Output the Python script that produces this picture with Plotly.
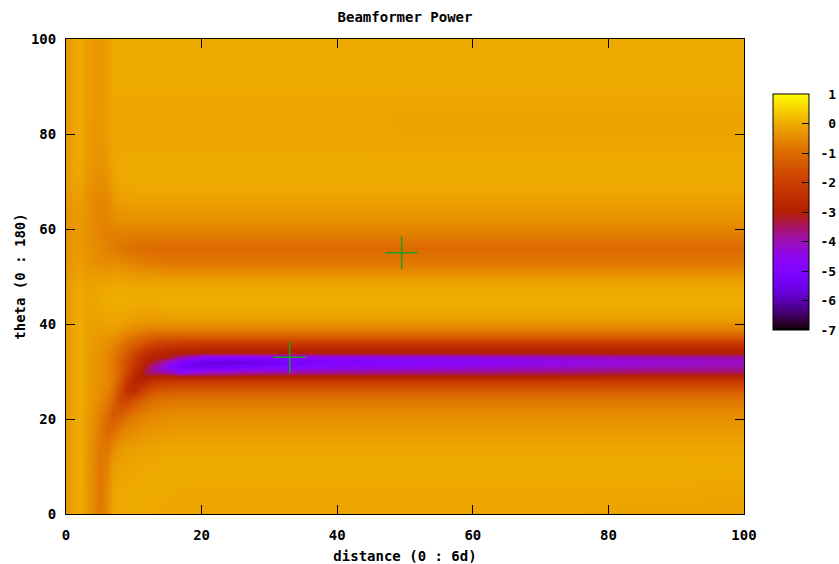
import math
import numpy as np
import plotly.graph_objects as go

# Sample grid: distance columns (x) and steering angle rows (theta)
distance = [0, 1, 2, 3, 4, 5, 6, 7, 8, 9, 10, 11, 12, 13, 15, 17, 20, 25, 30, 40, 55, 70, 85, 100]
theta = [0, 5, 10, 14, 18, 21, 24, 26, 28, 29, 30, 31, 32, 33, 34, 35, 36, 37.5, 39, 41,
         44, 47, 50, 53, 56, 59, 62, 66, 70, 75, 80, 85, 90, 100]

# Beamformer power, one list per distance column, ordered along theta
power_columns = [
    # d = 0
    [-0.35, -0.35, -0.35, -0.35, -0.35, -0.35, -0.35, -0.35, -0.35, -0.35, -0.35, -0.35, -0.35, -0.35, -0.35,
     -0.35, -0.35, -0.35, -0.35, -0.35, -0.35, -0.35, -0.4, -0.45, -0.45, -0.45, -0.45, -0.4, -0.35, -0.35,
     -0.35, -0.35, -0.35, -0.35],
    # d = 1
    [-0.08, -0.08, -0.08, -0.08, -0.08, -0.08, -0.08, -0.08, -0.08, -0.08, -0.08, -0.08, -0.08, -0.08, -0.08,
     -0.08, -0.08, -0.08, -0.08, -0.08, -0.08, -0.08, -0.15, -0.25, -0.28, -0.28, -0.28, -0.22, -0.12, -0.08,
     -0.08, -0.08, -0.08, -0.08],
    # d = 2
    [0.0, 0.0, 0.0, 0.0, 0.0, 0.0, 0.0, 0.0, 0.0, 0.0, 0.0, 0.0, 0.0, 0.0, 0.0, 0.0, 0.0, 0.0, 0.0, 0.0, 0.0,
     0.0, -0.1, -0.2, -0.25, -0.25, -0.25, -0.2, -0.1, -0.03, -0.03, -0.03, -0.03, -0.03],
    # d = 3
    [-0.22, -0.22, -0.22, -0.22, -0.2, -0.18, -0.15, -0.15, -0.15, -0.15, -0.15, -0.15, -0.15, -0.15, -0.15,
     -0.15, -0.15, -0.15, -0.15, -0.15, -0.1, -0.1, -0.2, -0.3, -0.35, -0.35, -0.35, -0.35, -0.28, -0.2,
     -0.18, -0.18, -0.18, -0.18],
    # d = 4
    [-0.48, -0.48, -0.5, -0.48, -0.45, -0.4, -0.32, -0.28, -0.28, -0.28, -0.28, -0.28, -0.28, -0.28, -0.28,
     -0.26, -0.22, -0.2, -0.18, -0.15, -0.1, -0.1, -0.2, -0.38, -0.42, -0.46, -0.48, -0.48, -0.38, -0.3,
     -0.28, -0.26, -0.26, -0.26],
    # d = 5
    [-0.8, -0.8, -0.82, -0.8, -0.75, -0.65, -0.5, -0.45, -0.4, -0.4, -0.4, -0.4, -0.4, -0.4, -0.38, -0.35,
     -0.3, -0.25, -0.2, -0.12, -0.05, -0.05, -0.2, -0.42, -0.52, -0.56, -0.56, -0.55, -0.45, -0.35, -0.3,
     -0.28, -0.28, -0.28],
    # d = 6
    [-0.45, -0.5, -0.62, -0.82, -1.1, -1.0, -0.75, -0.6, -0.5, -0.5, -0.5, -0.5, -0.5, -0.5, -0.48, -0.45,
     -0.4, -0.3, -0.18, -0.08, 0.0, 0.0, -0.2, -0.48, -0.62, -0.65, -0.6, -0.5, -0.35, -0.25, -0.2, -0.18,
     -0.16, -0.16],
    # d = 7
    [-0.06, -0.1, -0.22, -0.45, -1.0, -1.4, -1.15, -0.95, -0.8, -0.75, -0.75, -0.75, -0.75, -0.72, -0.7,
     -0.62, -0.52, -0.38, -0.2, -0.06, 0.0, 0.0, -0.15, -0.45, -0.7, -0.66, -0.5, -0.3, -0.15, -0.06, -0.08,
     -0.06, -0.03, -0.03],
    # d = 8
    [-0.03, -0.05, -0.12, -0.28, -0.72, -1.3, -1.8, -1.65, -1.4, -1.3, -1.2, -1.2, -1.2, -1.1, -1.0, -0.9,
     -0.75, -0.5, -0.28, -0.08, 0.0, 0.0, -0.15, -0.5, -0.8, -0.66, -0.42, -0.2, -0.05, -0.04, -0.08, -0.08,
     -0.03, -0.03],
    # d = 9
    [-0.03, -0.03, -0.08, -0.22, -0.55, -1.0, -1.9, -2.4, -2.3, -2.0, -1.8, -1.7, -1.6, -1.5, -1.4, -1.2,
     -1.0, -0.7, -0.38, -0.12, 0.0, 0.0, -0.2, -0.55, -0.88, -0.68, -0.4, -0.17, -0.03, -0.03, -0.08, -0.08,
     -0.03, -0.03],
    # d = 10
    [-0.03, -0.03, -0.05, -0.18, -0.45, -0.82, -1.55, -2.5, -2.85, -2.8, -2.5, -2.3, -2.1, -2.0, -1.8, -1.5,
     -1.2, -0.85, -0.48, -0.18, -0.02, 0.0, -0.2, -0.6, -0.95, -0.68, -0.4, -0.15, 0.0, -0.03, -0.08, -0.08,
     -0.03, -0.03],
    # d = 11
    [-0.03, -0.03, -0.05, -0.14, -0.38, -0.7, -1.25, -2.0, -2.8, -3.0, -2.9, -2.8, -2.6, -2.4, -2.2, -1.8,
     -1.4, -1.0, -0.52, -0.22, -0.02, 0.0, -0.22, -0.65, -1.0, -0.68, -0.4, -0.15, 0.0, -0.03, -0.08, -0.08,
     -0.03, -0.03],
    # d = 12
    [-0.05, -0.03, -0.05, -0.13, -0.33, -0.62, -1.1, -1.7, -2.6, -3.1, -3.5, -3.4, -3.0, -2.7, -2.5, -2.1,
     -1.6, -1.1, -0.58, -0.22, -0.02, 0.0, -0.22, -0.7, -1.0, -0.66, -0.4, -0.15, 0.0, -0.03, -0.08, -0.08,
     -0.03, -0.03],
    # d = 13
    [-0.05, -0.03, -0.03, -0.12, -0.3, -0.55, -0.95, -1.45, -2.3, -3.0, -3.8, -3.9, -3.3, -2.9, -2.7, -2.3,
     -1.8, -1.2, -0.62, -0.22, -0.02, 0.0, -0.24, -0.75, -1.02, -0.66, -0.4, -0.15, 0.0, -0.03, -0.08, -0.08,
     -0.03, -0.03],
    # d = 15
    [-0.08, -0.03, 0.0, -0.08, -0.27, -0.48, -0.85, -1.35, -2.15, -2.9, -4.0, -4.7, -4.2, -3.1, -2.9, -2.5,
     -2.0, -1.25, -0.62, -0.18, 0.0, 0.0, -0.25, -0.78, -1.05, -0.65, -0.4, -0.15, 0.0, -0.03, -0.08, -0.08,
     -0.03, -0.03],
    # d = 17
    [-0.1, -0.05, 0.0, -0.08, -0.25, -0.45, -0.8, -1.3, -2.1, -3.2, -4.6, -5.3, -5.0, -3.8, -3.0, -2.6, -2.1,
     -1.25, -0.62, -0.18, 0.0, 0.0, -0.25, -0.8, -1.05, -0.65, -0.4, -0.15, 0.0, -0.03, -0.08, -0.08, -0.03,
     -0.03],
    # d = 20
    [-0.1, -0.05, 0.0, -0.08, -0.25, -0.45, -0.8, -1.3, -2.1, -3.2, -4.2, -5.4, -5.6, -4.6, -3.1, -2.7, -2.1,
     -1.25, -0.62, -0.18, 0.0, 0.0, -0.25, -0.8, -1.05, -0.65, -0.4, -0.15, 0.0, -0.03, -0.08, -0.08, -0.03,
     -0.03],
    # d = 25
    [-0.1, -0.05, 0.0, -0.08, -0.25, -0.45, -0.8, -1.3, -2.1, -3.1, -4.0, -5.2, -5.7, -4.8, -3.1, -2.7, -2.1,
     -1.25, -0.62, -0.18, 0.0, 0.0, -0.25, -0.8, -1.05, -0.65, -0.4, -0.15, 0.0, -0.03, -0.08, -0.08, -0.03,
     -0.03],
    # d = 30
    [-0.1, -0.05, 0.0, -0.08, -0.25, -0.45, -0.8, -1.3, -2.1, -3.0, -3.9, -5.0, -5.4, -4.7, -3.1, -2.7, -2.1,
     -1.25, -0.62, -0.18, 0.0, 0.0, -0.25, -0.8, -1.05, -0.65, -0.4, -0.15, 0.0, -0.03, -0.08, -0.08, -0.03,
     -0.03],
    # d = 40
    [-0.1, -0.05, 0.0, -0.08, -0.25, -0.45, -0.8, -1.3, -2.1, -3.0, -3.8, -4.6, -5.0, -4.5, -3.1, -2.7, -2.1,
     -1.25, -0.62, -0.18, 0.0, 0.0, -0.25, -0.8, -1.05, -0.65, -0.4, -0.15, 0.0, -0.03, -0.08, -0.08, -0.03,
     -0.03],
    # d = 55
    [-0.1, -0.05, 0.0, -0.08, -0.25, -0.45, -0.8, -1.3, -2.1, -3.0, -3.7, -4.4, -4.8, -4.4, -3.1, -2.7, -2.1,
     -1.25, -0.62, -0.18, 0.0, 0.0, -0.25, -0.8, -1.05, -0.65, -0.4, -0.15, 0.0, -0.03, -0.1, -0.1, -0.03,
     -0.03],
    # d = 70
    [-0.1, -0.05, 0.0, -0.08, -0.25, -0.45, -0.8, -1.3, -2.1, -3.0, -3.6, -4.2, -4.5, -4.2, -3.1, -2.7, -2.1,
     -1.25, -0.62, -0.18, 0.0, 0.0, -0.25, -0.8, -1.05, -0.65, -0.4, -0.15, 0.0, -0.03, -0.1, -0.1, -0.03,
     -0.03],
    # d = 85
    [-0.12, -0.05, 0.0, -0.08, -0.25, -0.45, -0.8, -1.3, -2.1, -2.9, -3.5, -4.0, -4.3, -4.0, -3.0, -2.7, -2.1,
     -1.25, -0.62, -0.18, 0.0, 0.0, -0.25, -0.8, -1.05, -0.65, -0.4, -0.15, 0.0, -0.03, -0.1, -0.1, -0.03,
     -0.03],
    # d = 100
    [-0.15, -0.08, -0.02, -0.08, -0.25, -0.45, -0.8, -1.3, -2.1, -2.9, -3.5, -3.9, -4.1, -3.9, -3.0, -2.7,
     -2.1, -1.25, -0.62, -0.18, 0.0, 0.0, -0.25, -0.8, -1.05, -0.65, -0.4, -0.15, 0.0, -0.03, -0.1, -0.1,
     -0.03, -0.03],
]

# Source positions marked on the map
marker_distance = [33, 49.5]
marker_theta = [33, 55]

axis_ticks = [0, 20, 40, 60, 80, 100]
power_ticks = [1, 0, -1, -2, -3, -4, -5, -6, -7]
power_min, power_max = -7, 1

z = np.array(power_columns, dtype=float).T  # rows follow theta, columns follow distance


def gnuplot_palette(n=64):
    """gnuplot's default rgbformulae 7,5,15 (black-blue-red-yellow)."""
    stops = []
    for i in range(n + 1):
        t = i / n
        r = math.sqrt(t)
        g = t ** 3
        b = max(0.0, math.sin(2 * math.pi * t))
        stops.append([t, f"rgb({round(r * 255)},{round(g * 255)},{round(b * 255)})"])
    return stops


FONT = dict(family="DejaVu Sans Mono", size=14, color="black", weight="bold")
NBSP = "\u00a0"

# Colour box geometry (pixels), used for the paper-coordinate placement of the bar
PLOT_L, PLOT_R, PLOT_T, PLOT_B = 66, 744, 39, 514
CB_L, CB_R, CB_T, CB_B = 773, 809, 94, 330
paper_w = PLOT_R - PLOT_L
paper_h = PLOT_B - PLOT_T
cb_x0 = (CB_L - PLOT_L) / paper_w
cb_ymid = (PLOT_B - (CB_T + CB_B) / 2) / paper_h

fig = go.Figure()
fig.add_trace(go.Heatmap(
    x=distance,
    y=theta,
    z=z,
    zmin=power_min,
    zmax=power_max,
    zsmooth="best",
    colorscale=gnuplot_palette(),
    hoverinfo="skip",
    colorbar=dict(
        x=cb_x0, xanchor="left", xpad=0,
        y=cb_ymid, yanchor="middle", ypad=0,
        thickness=CB_R - CB_L, thicknessmode="pixels",
        len=CB_B - CB_T, lenmode="pixels",
        outlinewidth=1, outlinecolor="black",
        tickvals=power_ticks,
        ticktext=[(NBSP if v < 0 else NBSP * 2) + str(v) for v in power_ticks],
        ticks="inside", ticklen=7, tickwidth=1, tickcolor="black",
        tickfont=dict(FONT, size=13),
    ),
))
fig.add_trace(go.Scatter(
    x=marker_distance,
    y=marker_theta,
    mode="markers",
    marker=dict(symbol="cross-thin", size=23,
                line=dict(width=1.5, color="rgb(30,160,30)")),
    hoverinfo="skip",
    showlegend=False,
))

# Mirror ticks on the left edge of the colour box
tick_len = 7 / paper_w
for v in power_ticks[1:-1]:
    yp = (PLOT_B - (CB_T + (power_max - v) / (power_max - power_min) * (CB_B - CB_T))) / paper_h
    fig.add_shape(type="line", xref="paper", yref="paper",
                  x0=cb_x0, x1=cb_x0 + tick_len, y0=yp, y1=yp,
                  line=dict(color="black", width=1))

axis_style = dict(
    range=[0, 100],
    tickvals=axis_ticks,
    ticks="inside", ticklen=9, tickwidth=1, tickcolor="black",
    showline=True, linecolor="black", linewidth=1, mirror="ticks",
    showgrid=False, zeroline=False,
    tickfont=FONT,
)

fig.update_layout(
    width=839, height=564,
    margin=dict(l=PLOT_L, r=839 - PLOT_R, t=PLOT_T, b=564 - PLOT_B, autoexpand=False),
    paper_bgcolor="white",
    plot_bgcolor="white",
    font=FONT,
    title=dict(text="Beamformer Power", x=0.5, xref="paper", xanchor="center",
               y=0.97, yref="container", yanchor="middle", font=FONT),
    xaxis=dict(axis_style, ticklabelstandoff=8,
               title=dict(text="distance (0 : 6d)", font=FONT, standoff=10)),
    yaxis=dict(axis_style, ticklabelstandoff=6,
               title=dict(text="theta (0 : 180)", font=FONT, standoff=2)),
    showlegend=False,
)

fig.write_html("out.html")
